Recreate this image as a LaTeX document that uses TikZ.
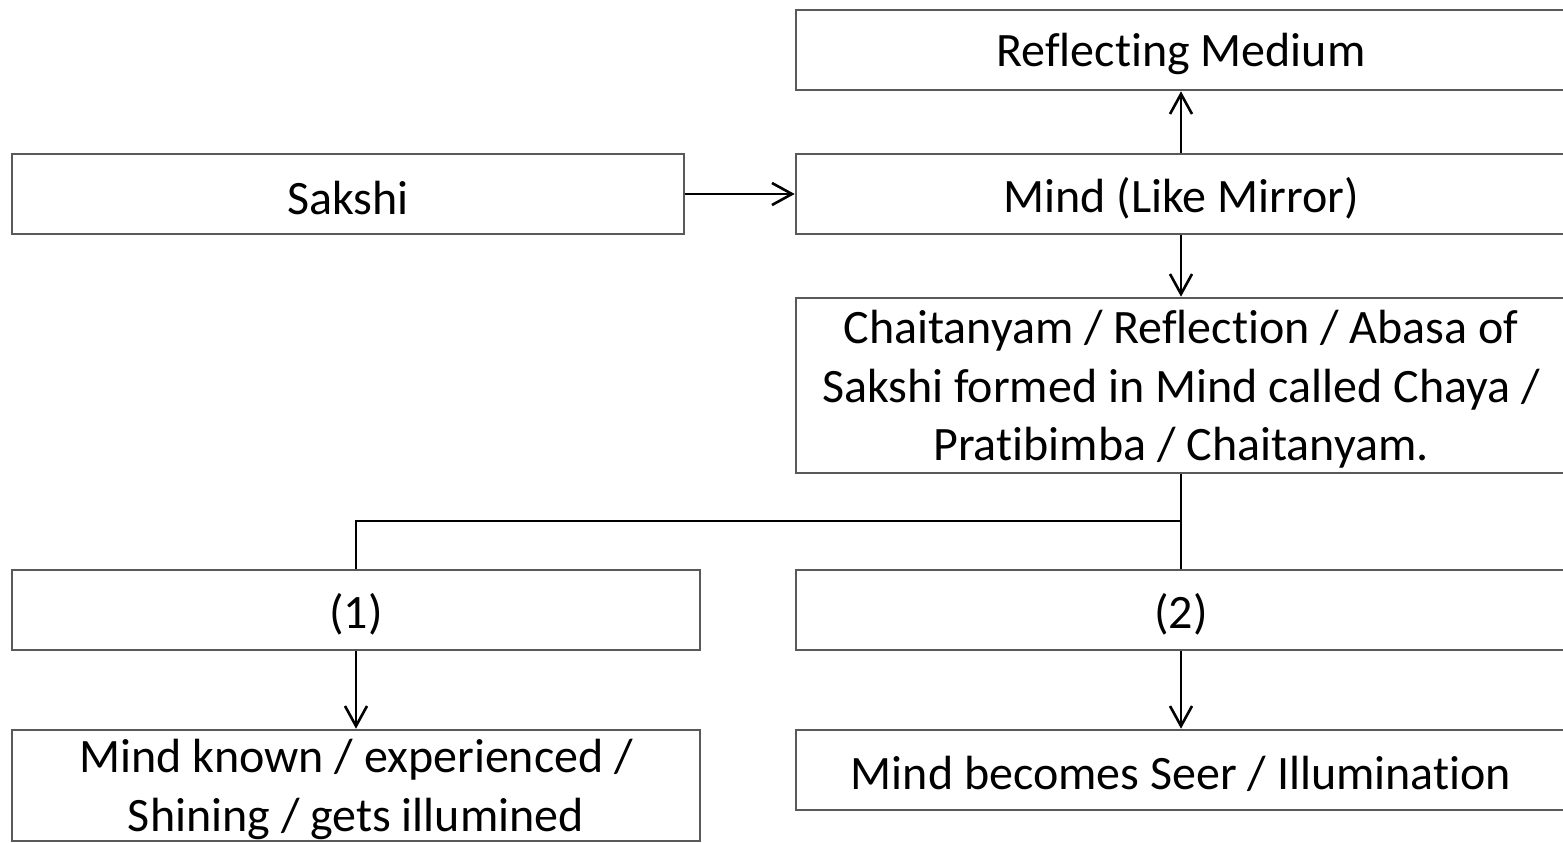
\documentclass[tikz,border=0pt]{standalone}
\usepackage{fontspec}
\setmainfont{Carlito}[Ligatures={NoCommon}]
\usetikzlibrary{arrows.meta}
\begin{document}
\begin{tikzpicture}[x=0.5pt,y=-0.5pt,
  box/.style={draw=boxgray,line width=1.3pt,rectangle,inner sep=0pt},
  boxtext/.style={align=center,inner sep=0pt,yshift=-2pt,
    font=\fontsize{24}{29.25}\selectfont},
  link/.style={draw=black,line width=1.3pt},
  arr/.style={link,-{Straight Barb[length=10pt,width=11pt,line width=1.3pt]}}]
\definecolor{boxgray}{HTML}{595959}
\useasboundingbox (0,0) rectangle (1563,842);
\clip (0,0) rectangle (1563,842);

% boxes, each with its text centred a little below the middle
\node[box,minimum width=385pt,minimum height=40pt,
  label={[boxtext]center:{Reflecting Medium}}] (refl) at (1181,50) {};
\node[box,minimum width=336pt,minimum height=40pt,
  label={[boxtext]center:{Sakshi}}] (sakshi) at (348,194) {};
\node[box,minimum width=385pt,minimum height=40pt,
  label={[boxtext]center:{Mind (Like Mirror)}}] (mind) at (1181,194) {};
\node[box,minimum width=385pt,minimum height=87.5pt,
  label={[boxtext]center:{Chaitanyam / Reflection / Abasa of\\Sakshi formed in Mind called Chaya /\\Pratibimba / Chaitanyam.}}]
  (chaya) at (1181,385.5) {};
\node[box,minimum width=344pt,minimum height=40pt,
  label={[boxtext]center:{(1)}}] (one) at (356,610) {};
\node[box,minimum width=385pt,minimum height=40pt,
  label={[boxtext]center:{(2)}}] (two) at (1181,610) {};
\node[box,minimum width=344pt,minimum height=55.5pt,
  label={[boxtext]center:{Mind known / experienced /\\Shining / gets illumined}}]
  (known) at (356,785.5) {};
\node[box,minimum width=385pt,minimum height=40pt,
  label={[boxtext]center:{Mind becomes Seer / Illumination}}] (seer) at (1181,770) {};

% connectors
\draw[arr] (sakshi.east) -- (mind.west);
\draw[arr] (mind.north) -- (refl.south);
\draw[arr] (mind.south) -- (chaya.north);
\coordinate (fork) at (1181,521);
\draw[link] (chaya.south) -- (fork) -| (one.north);
\draw[link] (fork) -- (two.north);
\draw[arr] (one.south) -- (known.north);
\draw[arr] (two.south) -- (seer.north);
\end{tikzpicture}
\end{document}
